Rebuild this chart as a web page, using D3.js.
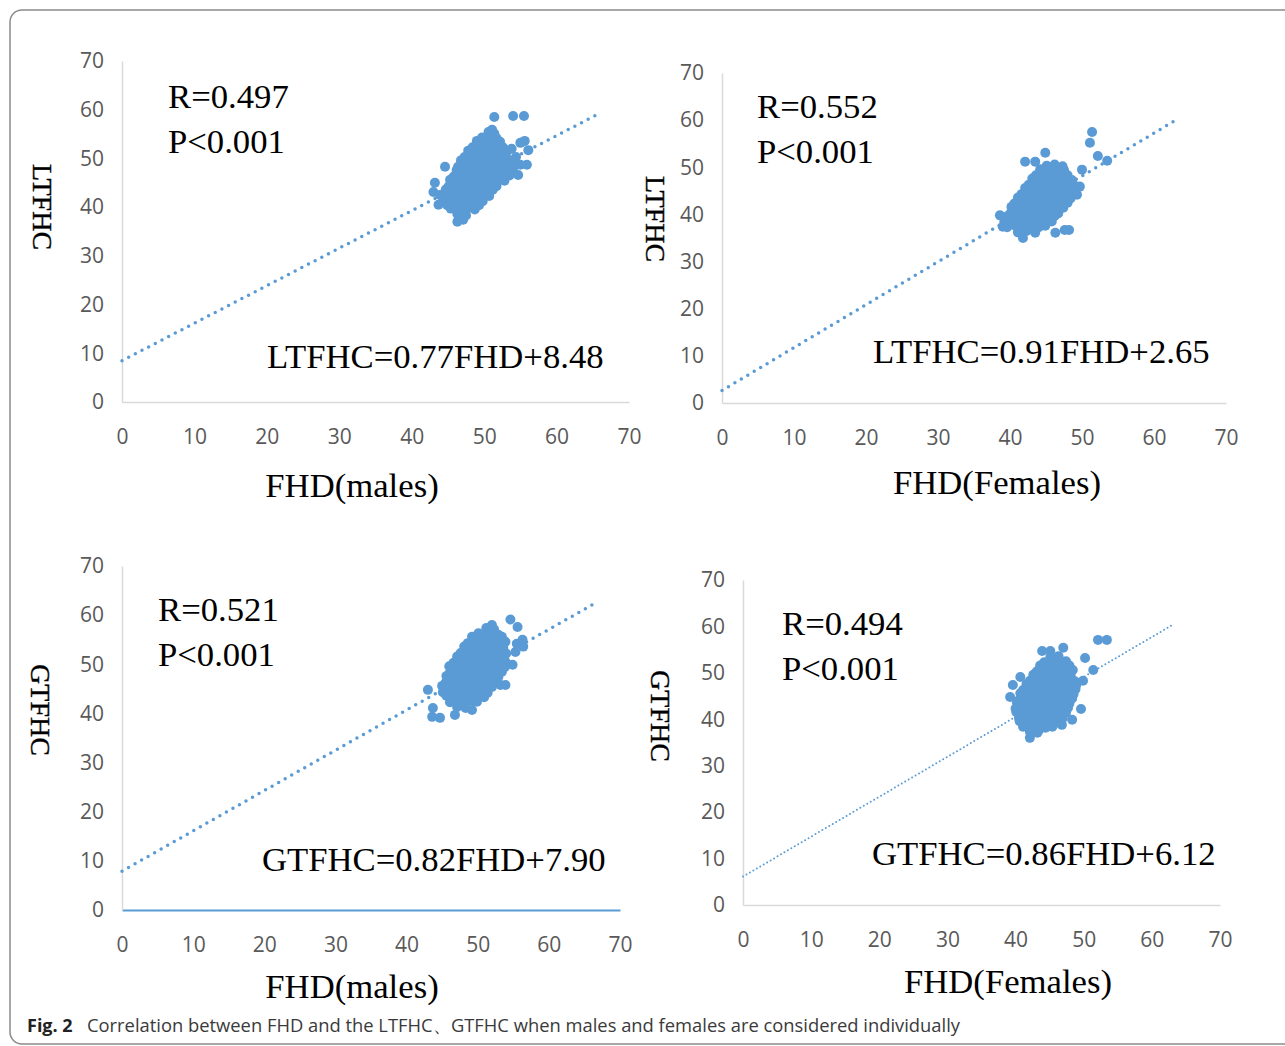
<!DOCTYPE html>
<html>
<head>
<meta charset="utf-8">
<script src="https://cdn.jsdelivr.net/npm/d3@7"></script>
<style>
body { margin: 0; background: #fff; }
svg { display: block; }
</style>
</head>
<body>
<script>
// ---- data ----
var ticks = [0, 10, 20, 30, 40, 50, 60, 70];
var xTitles = ["FHD(males)", "FHD(Females)", "FHD(males)", "FHD(Females)"];
var yTitles = ["LTFHC", "LTFHC", "GTFHC", "GTFHC"];
var rValues = ["R=0.497", "R=0.552", "R=0.521", "R=0.494"];
var pValues = ["P<0.001", "P<0.001", "P<0.001", "P<0.001"];
var slopes = [0.77, 0.91, 0.82, 0.86];
var intercepts = [8.48, 2.65, 7.90, 6.12];
var lineEnds = [65.5, 63.2, 66.4, 63.1];

// LTFHC vs FHD, males
var ltMales = [
  [51.4,58.5],[54.0,58.7],[55.5,58.7],[51.1,55.9],[55.0,53.2],[56.1,51.7],[55.9,48.7],[55.0,48.7],
  [54.7,46.6],[44.6,48.3],[43.2,45.0],[43.0,43.1],[43.9,42.5],[43.7,40.5],[45.3,40.9],[46.7,38.8],
  [46.3,37.0],[47.1,37.4],[53.8,52.0],[54.4,50.3],[52.6,46.0],[55.6,53.6],
  [46.3,38.6],[47.5,38.3],
  [45.4,39.7],[46.6,39.4],[47.8,39.8],[48.7,39.5],
  [44.9,40.4],[46.0,40.7],[47.1,40.3],[48.2,40.6],[49.3,40.4],
  [44.4,41.5],[45.5,41.2],[46.6,41.6],[47.7,41.3],[48.8,41.5],[49.8,41.2],
  [44.2,42.3],[45.3,42.6],[46.4,42.2],[47.5,42.5],[48.6,42.3],[49.7,42.6],[50.7,42.3],
  [44.7,43.6],[45.8,43.3],[46.9,43.7],[48.0,43.4],[49.1,43.6],[50.2,43.3],[51.2,43.6],
  [45.1,44.3],[46.2,44.6],[47.3,44.2],[48.4,44.5],[49.5,44.3],[50.6,44.6],[51.7,44.3],
  [45.3,45.6],[46.4,45.3],[47.5,45.7],[48.6,45.4],[49.7,45.6],[50.8,45.3],[51.9,45.7],[52.8,45.4],
  [45.8,46.3],[46.9,46.6],[48.0,46.2],[49.1,46.5],[50.2,46.3],[51.3,46.6],[52.4,46.2],[53.5,46.5],
  [46.2,47.6],[47.3,47.3],[48.4,47.7],[49.5,47.4],[50.6,47.6],[51.7,47.3],[52.8,47.7],[53.9,47.4],
  [46.4,48.3],[47.5,48.6],[48.6,48.2],[49.7,48.5],[50.8,48.3],[51.9,48.6],[53.0,48.2],[54.2,48.5],
  [46.8,49.6],[47.9,49.3],[49.0,49.7],[50.1,49.4],[51.2,49.6],[52.3,49.3],[53.4,49.7],
  [47.3,50.3],[48.4,50.6],[49.5,50.2],[50.6,50.5],[51.7,50.3],[52.8,50.6],
  [47.8,51.6],[48.9,51.3],[50.0,51.7],[51.1,51.4],[52.2,51.6],[53.1,51.3],
  [48.4,52.3],[49.5,52.6],[50.6,52.2],[51.7,52.5],[52.6,52.3],
  [49.0,53.6],[50.1,53.3],[51.2,53.7],[52.2,53.4],
  [49.7,54.3],[50.8,54.6],[51.7,54.2],
  [50.6,55.4],[51.4,55.1]
];

// LTFHC vs FHD, females
var ltFemales = [
  [51.4,57.5],[51.1,55.2],[52.2,52.4],[53.5,51.4],[44.9,53.1],[42.1,51.2],[43.5,51.2],[50.0,49.5],
  [49.7,45.9],[49.3,44.2],[47.6,36.7],[48.2,36.7],[46.3,36.1],[39.0,37.4],[41.8,35.0],[38.6,39.8],
  [41.1,36.2],[42.3,36.5],[43.5,36.1],
  [39.6,37.3],[40.7,37.6],[41.8,37.2],[42.9,37.5],[44.0,37.3],[44.9,37.6],
  [39.2,38.4],[40.3,38.1],[41.4,38.5],[42.5,38.2],[43.6,38.4],[44.7,38.1],[45.8,38.5],
  [39.6,39.6],[40.7,39.3],[41.8,39.7],[42.9,39.4],[44.0,39.6],[45.1,39.3],[46.2,39.7],
  [40.1,40.3],[41.2,40.6],[42.3,40.2],[43.4,40.5],[44.5,40.3],[45.6,40.6],[46.7,40.2],
  [40.2,41.6],[41.3,41.3],[42.4,41.7],[43.5,41.4],[44.6,41.6],[45.7,41.3],[46.8,41.7],[47.4,41.4],
  [40.6,42.3],[41.7,42.6],[42.8,42.2],[43.9,42.5],[45.0,42.3],[46.1,42.6],[47.2,42.2],[48.0,42.5],
  [41.1,43.6],[42.2,43.3],[43.3,43.7],[44.4,43.4],[45.5,43.6],[46.6,43.3],[47.7,43.7],[48.4,43.4],
  [41.6,44.3],[42.7,44.6],[43.8,44.2],[44.9,44.5],[46.0,44.3],[47.1,44.6],[48.2,44.2],
  [42.1,45.6],[43.2,45.3],[44.3,45.7],[45.4,45.4],[46.5,45.6],[47.6,45.3],[48.7,45.7],
  [42.6,46.3],[43.7,46.6],[44.8,46.2],[45.9,46.5],[47.0,46.3],[48.1,46.6],[48.9,46.2],
  [43.1,47.6],[44.2,47.3],[45.3,47.7],[46.4,47.4],[47.5,47.6],[48.6,47.3],
  [43.6,48.3],[44.7,48.6],[45.8,48.2],[46.9,48.5],[48.0,48.3],
  [44.2,49.6],[45.3,49.3],[46.4,49.7],[47.5,49.4],
  [45.1,50.3],[46.2,50.6],[47.3,50.2]
];

// GTFHC vs FHD, males
var gtMales = [
  [54.6,59.1],[55.6,57.6],[56.3,55.0],[56.4,53.6],[55.3,52.5],[54.9,49.9],[53.9,45.8],[53.2,45.8],
  [43.0,44.8],[43.7,41.1],[43.6,39.3],[44.7,39.1],[46.8,39.7],[49.2,40.7],[49.9,42.4],[52.0,58.0],
  [52.9,56.0],[55.5,54.2],
  [47.1,41.3],[48.3,41.1],
  [46.1,42.3],[47.2,42.6],[48.3,42.2],[49.4,42.5],
  [45.6,43.6],[46.7,43.3],[47.8,43.7],[48.9,43.4],[50.0,43.6],[50.9,43.3],
  [45.1,44.3],[46.2,44.6],[47.3,44.2],[48.4,44.5],[49.5,44.3],[50.6,44.6],[51.4,44.2],
  [45.0,45.6],[46.1,45.3],[47.2,45.7],[48.3,45.4],[49.4,45.6],[50.5,45.3],[51.6,45.7],[52.0,45.4],
  [45.5,46.3],[46.6,46.6],[47.7,46.2],[48.8,46.5],[49.9,46.3],[51.0,46.6],[52.1,46.2],[52.5,46.5],
  [45.6,47.6],[46.7,47.3],[47.8,47.7],[48.9,47.4],[50.0,47.6],[51.1,47.3],[52.2,47.7],[52.9,47.4],
  [46.1,48.3],[47.2,48.6],[48.3,48.2],[49.4,48.5],[50.5,48.3],[51.6,48.6],[52.7,48.2],[53.4,48.5],
  [46.0,49.6],[47.1,49.3],[48.2,49.7],[49.3,49.4],[50.4,49.6],[51.5,49.3],[52.6,49.7],[53.8,49.4],
  [46.6,50.3],[47.7,50.6],[48.8,50.2],[49.9,50.5],[51.0,50.3],[52.1,50.6],[53.2,50.2],[53.9,50.5],
  [47.1,51.6],[48.2,51.3],[49.3,51.7],[50.4,51.4],[51.5,51.6],[52.6,51.3],[53.7,51.7],
  [47.6,52.3],[48.7,52.6],[49.8,52.2],[50.9,52.5],[52.0,52.3],[53.1,52.6],[54.0,52.2],
  [48.1,53.6],[49.2,53.3],[50.3,53.7],[51.4,53.4],[52.5,53.6],[53.6,53.3],
  [48.6,54.3],[49.7,54.6],[50.8,54.2],[51.9,54.5],[53.0,54.3],[53.9,54.6],
  [49.2,55.6],[50.3,55.3],[51.4,55.7],[52.5,55.4],[53.4,55.6],
  [50.1,56.3],[51.2,56.6],[52.4,56.2],
  [51.2,57.4],[52.3,57.1]
];

// GTFHC vs FHD, females
var gtFemales = [
  [52.1,57.1],[53.4,57.1],[43.9,54.7],[45.1,54.7],[47.0,55.4],[50.2,53.2],[51.4,50.6],[39.6,47.4],
  [39.2,44.8],[40.7,49.1],[48.3,39.9],[42.1,36.0],[43.2,37.1],[46.8,38.8],[49.6,42.2],[49.9,48.3],
  [42.1,37.3],[43.4,37.6],
  [41.1,38.4],[42.2,38.1],[43.3,38.5],[44.4,38.2],[45.4,38.4],
  [40.6,39.6],[41.7,39.3],[42.8,39.7],[43.9,39.4],[45.0,39.6],[46.1,39.3],
  [40.5,40.3],[41.6,40.6],[42.7,40.2],[43.8,40.5],[44.9,40.3],[46.0,40.6],[46.9,40.2],
  [40.1,41.6],[41.2,41.3],[42.3,41.7],[43.4,41.4],[44.5,41.6],[45.6,41.3],[46.7,41.7],[47.4,41.4],
  [40.0,42.3],[41.1,42.6],[42.2,42.2],[43.3,42.5],[44.4,42.3],[45.5,42.6],[46.6,42.2],[47.7,42.5],
  [40.2,43.6],[41.3,43.3],[42.4,43.7],[43.5,43.4],[44.6,43.6],[45.7,43.3],[46.8,43.7],[47.9,43.4],
  [40.6,44.3],[41.7,44.6],[42.8,44.2],[43.9,44.5],[45.0,44.3],[46.1,44.6],[47.2,44.2],[48.3,44.5],
  [40.7,45.6],[41.8,45.3],[42.9,45.7],[44.0,45.4],[45.1,45.6],[46.2,45.3],[47.3,45.7],[48.5,45.4],
  [41.1,46.3],[42.2,46.6],[43.3,46.2],[44.4,46.5],[45.5,46.3],[46.6,46.6],[47.7,46.2],[48.8,46.5],
  [41.6,47.6],[42.7,47.3],[43.8,47.7],[44.9,47.4],[46.0,47.6],[47.1,47.3],[48.2,47.7],[48.9,47.4],
  [42.1,48.3],[43.2,48.6],[44.3,48.2],[45.4,48.5],[46.5,48.3],[47.6,48.6],[48.7,48.2],
  [42.6,49.6],[43.7,49.3],[44.8,49.7],[45.9,49.4],[47.0,49.6],[48.1,49.3],
  [43.1,50.3],[44.2,50.6],[45.3,50.2],[46.4,50.5],[47.5,50.3],[48.4,50.6],
  [43.6,51.6],[44.7,51.3],[45.8,51.7],[46.9,51.4],[47.9,51.6],
  [44.2,52.3],[45.3,52.6],[46.4,52.2],[47.4,52.5],
  [45.1,53.4],[46.3,53.6]
];

var pointSets = [ltMales, ltFemales, gtMales, gtFemales];

// ---- layout ----
var width = 1285, height = 1046;
var blue = "#5b9bd5";
var serif = "'Liberation Serif', 'Times New Roman', serif";

var panels = [
  {x: [122, 629], y: [402, 61], rx: 168, rb: 108, eqx: 267, eqb: 368, xt: [352, 497], yt: [42, 207], dot: [3.5, 7.5]},
  {x: [722, 1226], y: [403, 73], rx: 757, rb: 118, eqx: 873, eqb: 363, xt: [997, 494], yt: [655, 219], dot: [3.5, 7.5]},
  {x: [122, 620], y: [910, 566], rx: 158, rb: 621, eqx: 262, eqb: 871, xt: [352, 998], yt: [40, 710], dot: [3.5, 7.5], blueAxis: true},
  {x: [743, 1220], y: [905, 580], rx: 782, rb: 635, eqx: 872, eqb: 865, xt: [1008, 993], yt: [660, 716], dot: [2, 4]}
];

var svg = d3.select("body").append("svg")
    .attr("width", width)
    .attr("height", height);

// figure frame
svg.append("rect")
    .attr("x", 10).attr("y", 10)
    .attr("width", 1300).attr("height", 1034)
    .attr("rx", 12)
    .attr("fill", "none")
    .attr("stroke", "#8a8a8a")
    .attr("stroke-width", 1.5);

panels.forEach(function(p, i) {
  var xs = d3.scaleLinear().domain([0, 70]).range(p.x);
  var ys = d3.scaleLinear().domain([0, 70]).range(p.y);
  var g = svg.append("g");

  // axes
  g.append("g")
      .attr("transform", "translate(0," + p.y[0] + ")")
      .call(d3.axisBottom(xs).tickValues(ticks).tickSize(0).tickPadding(27))
      .call(function(a) {
        a.select(".domain")
          .attr("stroke", p.blueAxis ? blue : "#d9d9d9")
          .attr("stroke-width", p.blueAxis ? 2 : 1.5);
        a.selectAll("text")
          .attr("font-family", "'Open Sans', sans-serif")
          .attr("font-size", 21)
          .attr("fill", "#595959");
      });

  g.append("g")
      .attr("transform", "translate(" + p.x[0] + ",0)")
      .call(d3.axisLeft(ys).tickValues(ticks).tickSize(0).tickPadding(18))
      .call(function(a) {
        a.select(".domain").attr("stroke", "#d9d9d9").attr("stroke-width", 1.5);
        a.selectAll("text")
          .attr("font-family", "'Open Sans', sans-serif")
          .attr("font-size", 21)
          .attr("fill", "#595959");
      });

  // trend line from the printed regression equation
  var ends = [0, lineEnds[i]];
  g.append("line")
      .attr("x1", xs(ends[0])).attr("y1", ys(slopes[i] * ends[0] + intercepts[i]))
      .attr("x2", xs(ends[1])).attr("y2", ys(slopes[i] * ends[1] + intercepts[i]))
      .attr("stroke", blue)
      .attr("stroke-width", p.dot[0])
      .attr("stroke-linecap", "round")
      .attr("stroke-dasharray", "0 " + p.dot[1]);

  // points
  g.selectAll("circle")
      .data(pointSets[i])
      .enter()
      .append("circle")
      .attr("cx", function(d) { return xs(d[0]); })
      .attr("cy", function(d) { return ys(d[1]); })
      .attr("r", 5)
      .attr("fill", blue);

  // texts
  g.append("text").text(rValues[i])
      .attr("x", p.rx).attr("y", p.rb)
      .attr("font-family", serif).attr("font-size", 34.7);
  g.append("text").text(pValues[i])
      .attr("x", p.rx).attr("y", p.rb + 45)
      .attr("font-family", serif).attr("font-size", 34.7);
  g.append("text")
      .text(yTitles[i] + "=" + slopes[i].toFixed(2) + "FHD+" + intercepts[i].toFixed(2))
      .attr("x", p.eqx).attr("y", p.eqb)
      .attr("font-family", serif).attr("font-size", 34.7);
  g.append("text").text(xTitles[i])
      .attr("x", p.xt[0]).attr("y", p.xt[1])
      .attr("text-anchor", "middle")
      .attr("font-family", serif).attr("font-size", 34.7);
  g.append("text").text(yTitles[i])
      .attr("transform", "translate(" + p.yt[0] + "," + p.yt[1] + ") rotate(90)")
      .attr("text-anchor", "middle")
      .attr("dominant-baseline", "central")
      .attr("font-family", serif).attr("font-size", 28)
      .attr("stroke", "#000").attr("stroke-width", 0.4);
});

// caption
svg.append("text").text("Fig. 2")
    .attr("x", 27).attr("y", 1032)
    .attr("font-family", "'Open Sans', 'Noto Sans', sans-serif")
    .attr("font-size", 18)
    .attr("font-weight", "bold")
    .attr("fill", "#222");
svg.append("text")
    .text("Correlation between FHD and the LTFHC\u3001GTFHC when males and females are considered individually")
    .attr("x", 87).attr("y", 1032)
    .attr("font-family", "'Open Sans', 'Noto Sans', sans-serif")
    .attr("font-size", 18)
    .attr("fill", "#3a3a3a")
    .attr("textLength", 873)
    .attr("lengthAdjust", "spacingAndGlyphs");
</script>
</body>
</html>
